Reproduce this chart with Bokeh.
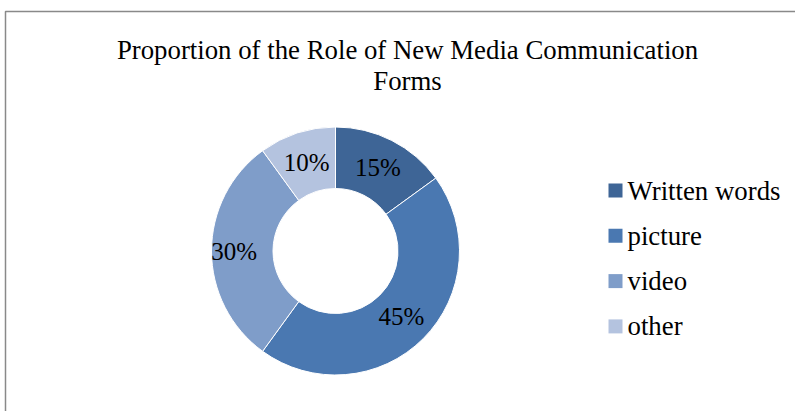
import math
from bokeh.plotting import figure
from bokeh.models import Range1d, ColumnDataSource
from bokeh.core.properties import value
from bokeh.embed import file_html
from bokeh.resources import INLINE

# ---- data ----
categories = ["Written words", "picture", "video", "other"]
shares = [15, 45, 30, 10]
colors = ["#3E6596", "#4A78B1", "#7F9DC9", "#B4C3DF"]
title_lines = ["Proportion of the Role of New Media Communication", "Forms"]

W, H = 795, 411
FONT = "Liberation Serif"

p = figure(width=W, height=H, output_backend="svg", toolbar_location=None,
           x_range=Range1d(0, W), y_range=Range1d(0, H),
           min_border=0, outline_line_color=None)
p.axis.visible = False
p.grid.visible = False
p.background_fill_color = "white"
p.border_fill_color = "white"

# chart border
p.quad(left=[5], right=[W + 20], top=[H - 11], bottom=[-20],
       fill_alpha=0, line_color="#898989", line_width=1.5)

# title
p.text(x=[407, 407], y=[H - 49, H - 80], text=title_lines,
       text_font=value(FONT), text_font_size="26.8px", text_color="black",
       text_align="center", text_baseline="alphabetic")

# donut
cx, cy = 335, H - 250.5
R_out, R_in = 124, 62.5
total = sum(shares)
starts, ends, mids = [], [], []
acc = 0.0
for s in shares:
    a0 = math.pi / 2 - 2 * math.pi * acc / total
    acc += s
    a1 = math.pi / 2 - 2 * math.pi * acc / total
    starts.append(a1)
    ends.append(a0)
    mids.append((a0 + a1) / 2)

src = ColumnDataSource(dict(start=starts, end=ends, color=colors))
p.annular_wedge(x=cx, y=cy, inner_radius=R_in, outer_radius=R_out,
                start_angle="start", end_angle="end", fill_color="color",
                line_color="white", line_width=1, source=src)

R_lab = (R_out + R_in) / 2
lab_x = [cx + R_lab * math.cos(m) for m in mids]
lab_y = [cy + R_lab * math.sin(m) for m in mids]
lab_x[2] -= 8
p.text(x=lab_x, y=lab_y, text=[f"{s}%" for s in shares],
       text_font=value(FONT), text_font_size="25px", text_color="black",
       text_align="center", text_baseline="middle")

# legend
leg_y = [H - (190 + 45.3 * i) for i in range(len(categories))]
p.rect(x=[615] * 4, y=leg_y, width=14, height=14, fill_color=colors,
       line_color=None)
p.text(x=[627] * 4, y=leg_y, text=categories, text_font=value(FONT),
       text_font_size="26.8px", text_color="black", text_align="left",
       text_baseline="middle")

open("out.html", "w").write(file_html(p, INLINE))
